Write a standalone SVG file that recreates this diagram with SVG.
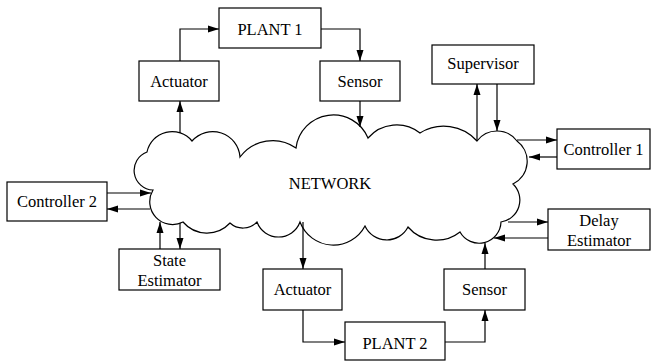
<svg xmlns="http://www.w3.org/2000/svg" width="652" height="364" viewBox="0 0 652 364">
  <style>
    .box { fill: #fff; stroke: #000; stroke-width: 1.2; }
    .cloud { fill: #fff; stroke: #000; stroke-width: 1.2; }
    .lbl { font-family: "Liberation Serif", "Times New Roman", serif; font-size: 16.5px; fill: #000; text-anchor: middle; }
    .wire { fill: none; stroke: #000; stroke-width: 1.2; marker-end: url(#head); }
  </style>
  <defs>
    <marker id="head" markerUnits="userSpaceOnUse" markerWidth="12" markerHeight="8" refX="11" refY="4" orient="auto">
      <path d="M0,0.5 L11,4 L0,7.5 Z" fill="#000"/>
    </marker>
  </defs>

  <!-- network cloud -->
  <g id="network">
    <path class="cloud" d="M153,190
      A19.6,19.6 0 0 1 147,152
      A25.7,25.7 0 0 1 192,141
      A27.4,27.4 0 0 1 240,157
      A40.7,40.7 0 0 1 296,148
      A37.6,37.6 0 0 1 368,138
      A37.7,37.7 0 0 1 420,133
      A44.9,44.9 0 0 1 477,141
      A25,25 0 0 1 517,141
      A25.3,25.3 0 0 1 513,184
      A22.2,22.2 0 0 1 501,222
      A21.9,21.9 0 0 1 460,232
      A37.7,37.7 0 0 1 408,227
      A23.9,23.9 0 0 1 365,226
      A35.7,35.7 0 0 1 300,222
      A22.9,22.9 0 0 1 257,222
      A19.3,19.3 0 0 1 230,223
      A31.5,31.5 0 0 1 183,222
      A22.8,22.8 0 0 1 153,190 Z"/>
    <text class="lbl" x="330" y="189">NETWORK</text>
  </g>

  <g id="plant1">
    <rect class="box" x="219" y="8" width="102" height="40"/>
    <text class="lbl" x="270" y="35">PLANT 1</text>
  </g>
  <g id="actuator1">
    <rect class="box" x="139" y="61" width="80" height="40"/>
    <text class="lbl" x="179" y="87">Actuator</text>
  </g>
  <g id="sensor1">
    <rect class="box" x="320" y="61" width="80" height="40"/>
    <text class="lbl" x="360" y="87">Sensor</text>
  </g>
  <g id="supervisor">
    <rect class="box" x="432" y="45" width="102" height="39"/>
    <text class="lbl" x="483" y="69">Supervisor</text>
  </g>
  <g id="controller1">
    <rect class="box" x="557" y="129" width="93" height="40"/>
    <text class="lbl" x="603.5" y="155">Controller 1</text>
  </g>
  <g id="controller2">
    <rect class="box" x="7" y="182" width="100" height="39"/>
    <text class="lbl" x="57" y="207">Controller 2</text>
  </g>
  <g id="state-estimator">
    <rect class="box" x="119" y="249" width="101" height="41"/>
    <text class="lbl" x="169.5" y="266">State</text>
    <text class="lbl" x="169.5" y="286">Estimator</text>
  </g>
  <g id="delay-estimator">
    <rect class="box" x="548" y="209" width="102" height="41"/>
    <text class="lbl" x="599" y="226">Delay</text>
    <text class="lbl" x="599" y="246">Estimator</text>
  </g>
  <g id="actuator2">
    <rect class="box" x="263" y="269" width="79" height="41"/>
    <text class="lbl" x="302.5" y="295">Actuator</text>
  </g>
  <g id="sensor2">
    <rect class="box" x="444" y="269" width="81" height="41"/>
    <text class="lbl" x="484.5" y="295">Sensor</text>
  </g>
  <g id="plant2">
    <rect class="box" x="345" y="322" width="100" height="38"/>
    <text class="lbl" x="395" y="349">PLANT 2</text>
  </g>

  <!-- connectors -->
  <g id="connectors">
    <path class="wire" d="M180,61 V29 H219"/>
    <path class="wire" d="M321,29 H360 V61"/>
    <path class="wire" d="M360,101 V127"/>
    <path class="wire" d="M180,133 V101"/>
    <path class="wire" d="M477,141 V84"/>
    <path class="wire" d="M497,84 V131"/>
    <path class="wire" d="M517,140 H557"/>
    <path class="wire" d="M557,157 H529"/>
    <path class="wire" d="M508,222 H548"/>
    <path class="wire" d="M548,238 H494"/>
    <path class="wire" d="M485,269 V243"/>
    <path class="wire" d="M445,342 H485 V310"/>
    <path class="wire" d="M303,310 V342 H345"/>
    <path class="wire" d="M303,222 V269"/>
    <path class="wire" d="M107,193 H151"/>
    <path class="wire" d="M150,209 H107"/>
    <path class="wire" d="M160,249 V222"/>
    <path class="wire" d="M180,223 V249"/>
  </g>
</svg>
